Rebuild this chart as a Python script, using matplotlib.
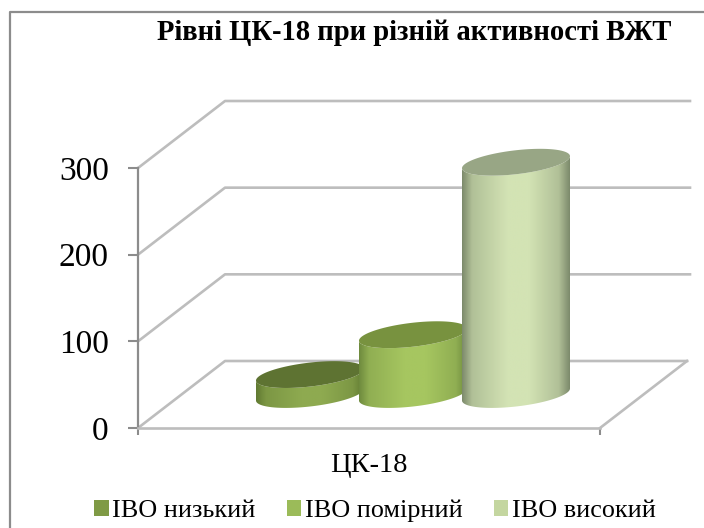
import matplotlib
matplotlib.use('Agg')
from matplotlib import pyplot as plt
from matplotlib.colors import LinearSegmentedColormap, to_rgb
from matplotlib.lines import Line2D
from matplotlib.patches import Polygon, Rectangle
import numpy as np

title = 'Рівні ЦК-18 при різній активності ВЖТ'
category = 'ЦК-18'
series = ['ІВО низький', 'ІВО помірний', 'ІВО високий']
values = [23, 69, 268]
y_ticks = [0, 100, 200, 300]

legend_colors = ['#7f9a45', '#9bbb59', '#c4d6a0']
top_colors = ['#5e7332', '#78923f', '#98a685']
edge_colors = ['#617a32', '#6f8b3e', '#7d8b6c']
mid_colors = ['#8eaa50', '#a6c660', '#d3e3b4']

plt.rcParams['font.family'] = ['Liberation Serif', 'DejaVu Serif']

W, H = 704, 528
PX = 260 / 300  # pixels per value unit
Y0 = 428

fig = plt.figure(figsize=(W / 100, H / 100), dpi=100)
ax = fig.add_axes([0, 0, 1, 1])
ax.patch.set_alpha(0)

x_left, x_right = 138, 600
dx, dy = 87, 67 / PX
grid_c = '#bdbdbd'
axis_c = '#8c8c8c'

# chart border, only top and left fall inside the picture
fig.add_artist(Line2D([10 / W, 10 / W, 1], [0, 1 - 12 / H, 1 - 12 / H], color=axis_c, lw=1.6))

# floor and walls
for v in y_ticks:
    ax.plot([x_left, x_left + dx, 690 if v else x_right + dx],
            [v, v + dy, v + dy], color=grid_c, lw=1.9, zorder=1)
ax.plot([x_right, x_right + dx], [0, dy], color=grid_c, lw=1.9, zorder=1)

ax.spines[['top', 'right']].set_visible(False)
ax.spines['left'].set_position(('data', x_left))
ax.spines['left'].set_bounds(0, 300)
ax.spines['bottom'].set_position(('data', 0))
ax.spines['bottom'].set_bounds(x_left, x_right)
ax.spines['left'].set_color(axis_c)
ax.spines['left'].set_linewidth(1.6)
ax.spines['bottom'].set_color(grid_c)
ax.spines['bottom'].set_linewidth(1.9)

ax.set_yticks(y_ticks)
ax.tick_params(axis='y', labelsize=24, length=7, width=1.5, color=axis_c, pad=14)
ax.set_xticks([x_left, x_right])
ax.set_xticklabels(['', ''])
ax.tick_params(axis='x', length=5, width=1.5, color=axis_c)
ax.set_xticks([(x_left + x_right) / 2], labels=[category], minor=True)
ax.tick_params(axis='x', which='minor', length=0, labelsize=20.5, pad=18)

# cylinders
half_w = 54
tilt = 6 / PX
minor = 12 / PX
base = dy / 2
t = np.linspace(0, 2 * np.pi, 200)
front = np.linspace(np.pi, 2 * np.pi, 100)
for i, v in enumerate(values):
    cx = 310 + i * 103
    top = base + v
    fx = cx + half_w * np.cos(front)
    f_off = tilt * np.cos(front) + minor * np.sin(front)
    body = np.column_stack([np.r_[fx, fx[::-1]], np.r_[base + f_off, (top + f_off)[::-1]]])
    poly = Polygon(body, closed=True, fc='none', ec='none', zorder=3 + i)
    ax.add_patch(poly)
    e, m = np.array(to_rgb(edge_colors[i])), np.array(to_rgb(mid_colors[i]))
    shade = tuple((e + m) / 2 + (m - e) * 0.1)
    cmap = LinearSegmentedColormap.from_list(
        'c%d' % i,
        [(0, e), (0.09, shade), (0.42, m), (0.62, m), (0.9, shade), (1, e)])
    im = ax.imshow(np.linspace(0, 1, 128).reshape(1, -1), cmap=cmap, aspect='auto',
                   extent=[cx - half_w, cx + half_w, base - minor * 2, top + minor * 2],
                   zorder=3 + i, interpolation='bilinear')
    im.set_clip_path(poly)
    ax.fill(cx + half_w * np.cos(t), top + tilt * np.cos(t) + minor * np.sin(t),
            color=top_colors[i], lw=0, zorder=3 + i)

ax.set_xlim(0, W)
ax.set_ylim((Y0 - H) / PX, Y0 / PX)

handles = [Rectangle((0, 0), 1, 1, fc=c, ec='none') for c in legend_colors]
fig.legend(handles, series, loc='center', bbox_to_anchor=(375 / W, 1 - 511 / H), ncol=3,
           frameon=False, fontsize=18.8, handlelength=0.54, handleheight=0.54,
           handletextpad=0.15, columnspacing=1.19, borderpad=0, borderaxespad=0)

fig.text(414.5 / W, 1 - 33 / H, title, ha='center', va='center', fontsize=20.6, fontweight='bold')

fig.savefig('out.png', dpi=100)
